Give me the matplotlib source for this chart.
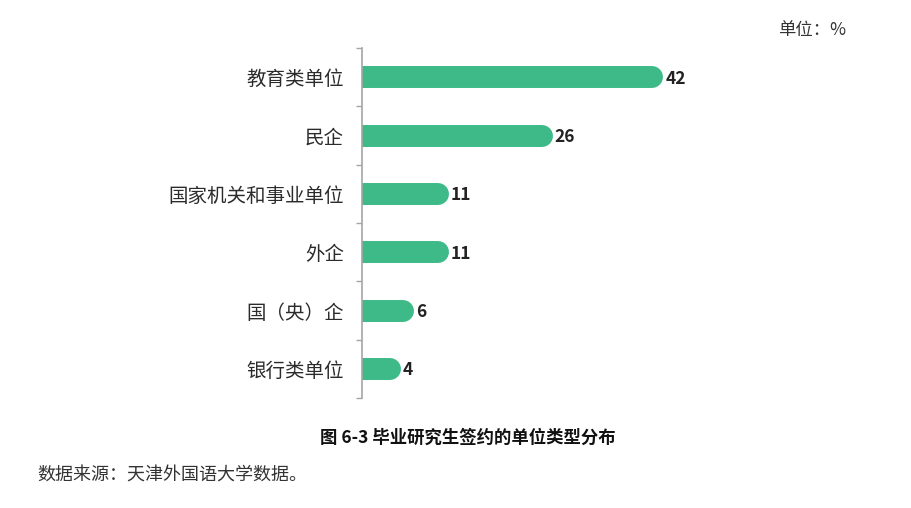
import matplotlib
matplotlib.use("Agg")
import matplotlib.pyplot as plt

plt.rcParams['font.family'] = ['Noto Sans CJK SC', 'DejaVu Sans']

categories = ["教育类单位", "民企", "国家机关和事业单位", "外企", "国（央）企", "银行类单位"]
values = [42, 26, 11, 11, 6, 4]
title = "图 6-3 毕业研究生签约的单位类型分布"
source = "数据来源：天津外国语大学数据。"
unit = "单位：%"

W, H = 912, 508
fig = plt.figure(figsize=(W / 100, H / 100), dpi=100)
ax_left, ax_right = 362, 777
ax_top, ax_bottom = 48, 398
ax = fig.add_axes([ax_left / W, 1 - ax_bottom / H, (ax_right - ax_left) / W, (ax_bottom - ax_top) / H])

color = "#3dba88"
n = len(categories)
ys = list(range(n))
ax.hlines(ys, 0, values, colors=color, linewidth=15.8, capstyle='round')

ax.set_xlim(0, 60)
ax.set_ylim(n - 0.5, -0.5)

for y, v in zip(ys, values):
    ax.annotate(str(v), xy=(v, y), xytext=(9.3, -1), textcoords='offset points',
                va='center', ha='left', fontsize=12.5, fontweight='bold', color='#222222',
                annotation_clip=False)

for s in ['top', 'right', 'bottom']:
    ax.spines[s].set_visible(False)
ax.spines['left'].set_color('#a6a6a6')
ax.spines['left'].set_linewidth(1.2)
ax.set_xticks([])
ax.set_yticks([i - 0.5 for i in range(n + 1)], minor=False)
ax.set_yticklabels([])
ax.tick_params(axis='y', which='major', length=4, color='#a6a6a6', width=1)
ax.set_yticks(ys, minor=True)
ax.set_yticklabels(categories, minor=True)
ax.tick_params(axis='y', which='minor', length=0, pad=13, labelsize=14, labelcolor='#2b2b2b')

fig.text(468 / W, 1 - 438 / H, title, ha='center', va='center', fontsize=12.5,
         fontweight='bold', color='#111111')
fig.text(37 / W, 1 - 476 / H, source, ha='left', va='center', fontsize=13, color='#333333')
fig.text(778 / W, 1 - 30 / H, unit, ha='left', va='center', fontsize=12.5, color='#333333')

fig.savefig("out.png", dpi=100)
